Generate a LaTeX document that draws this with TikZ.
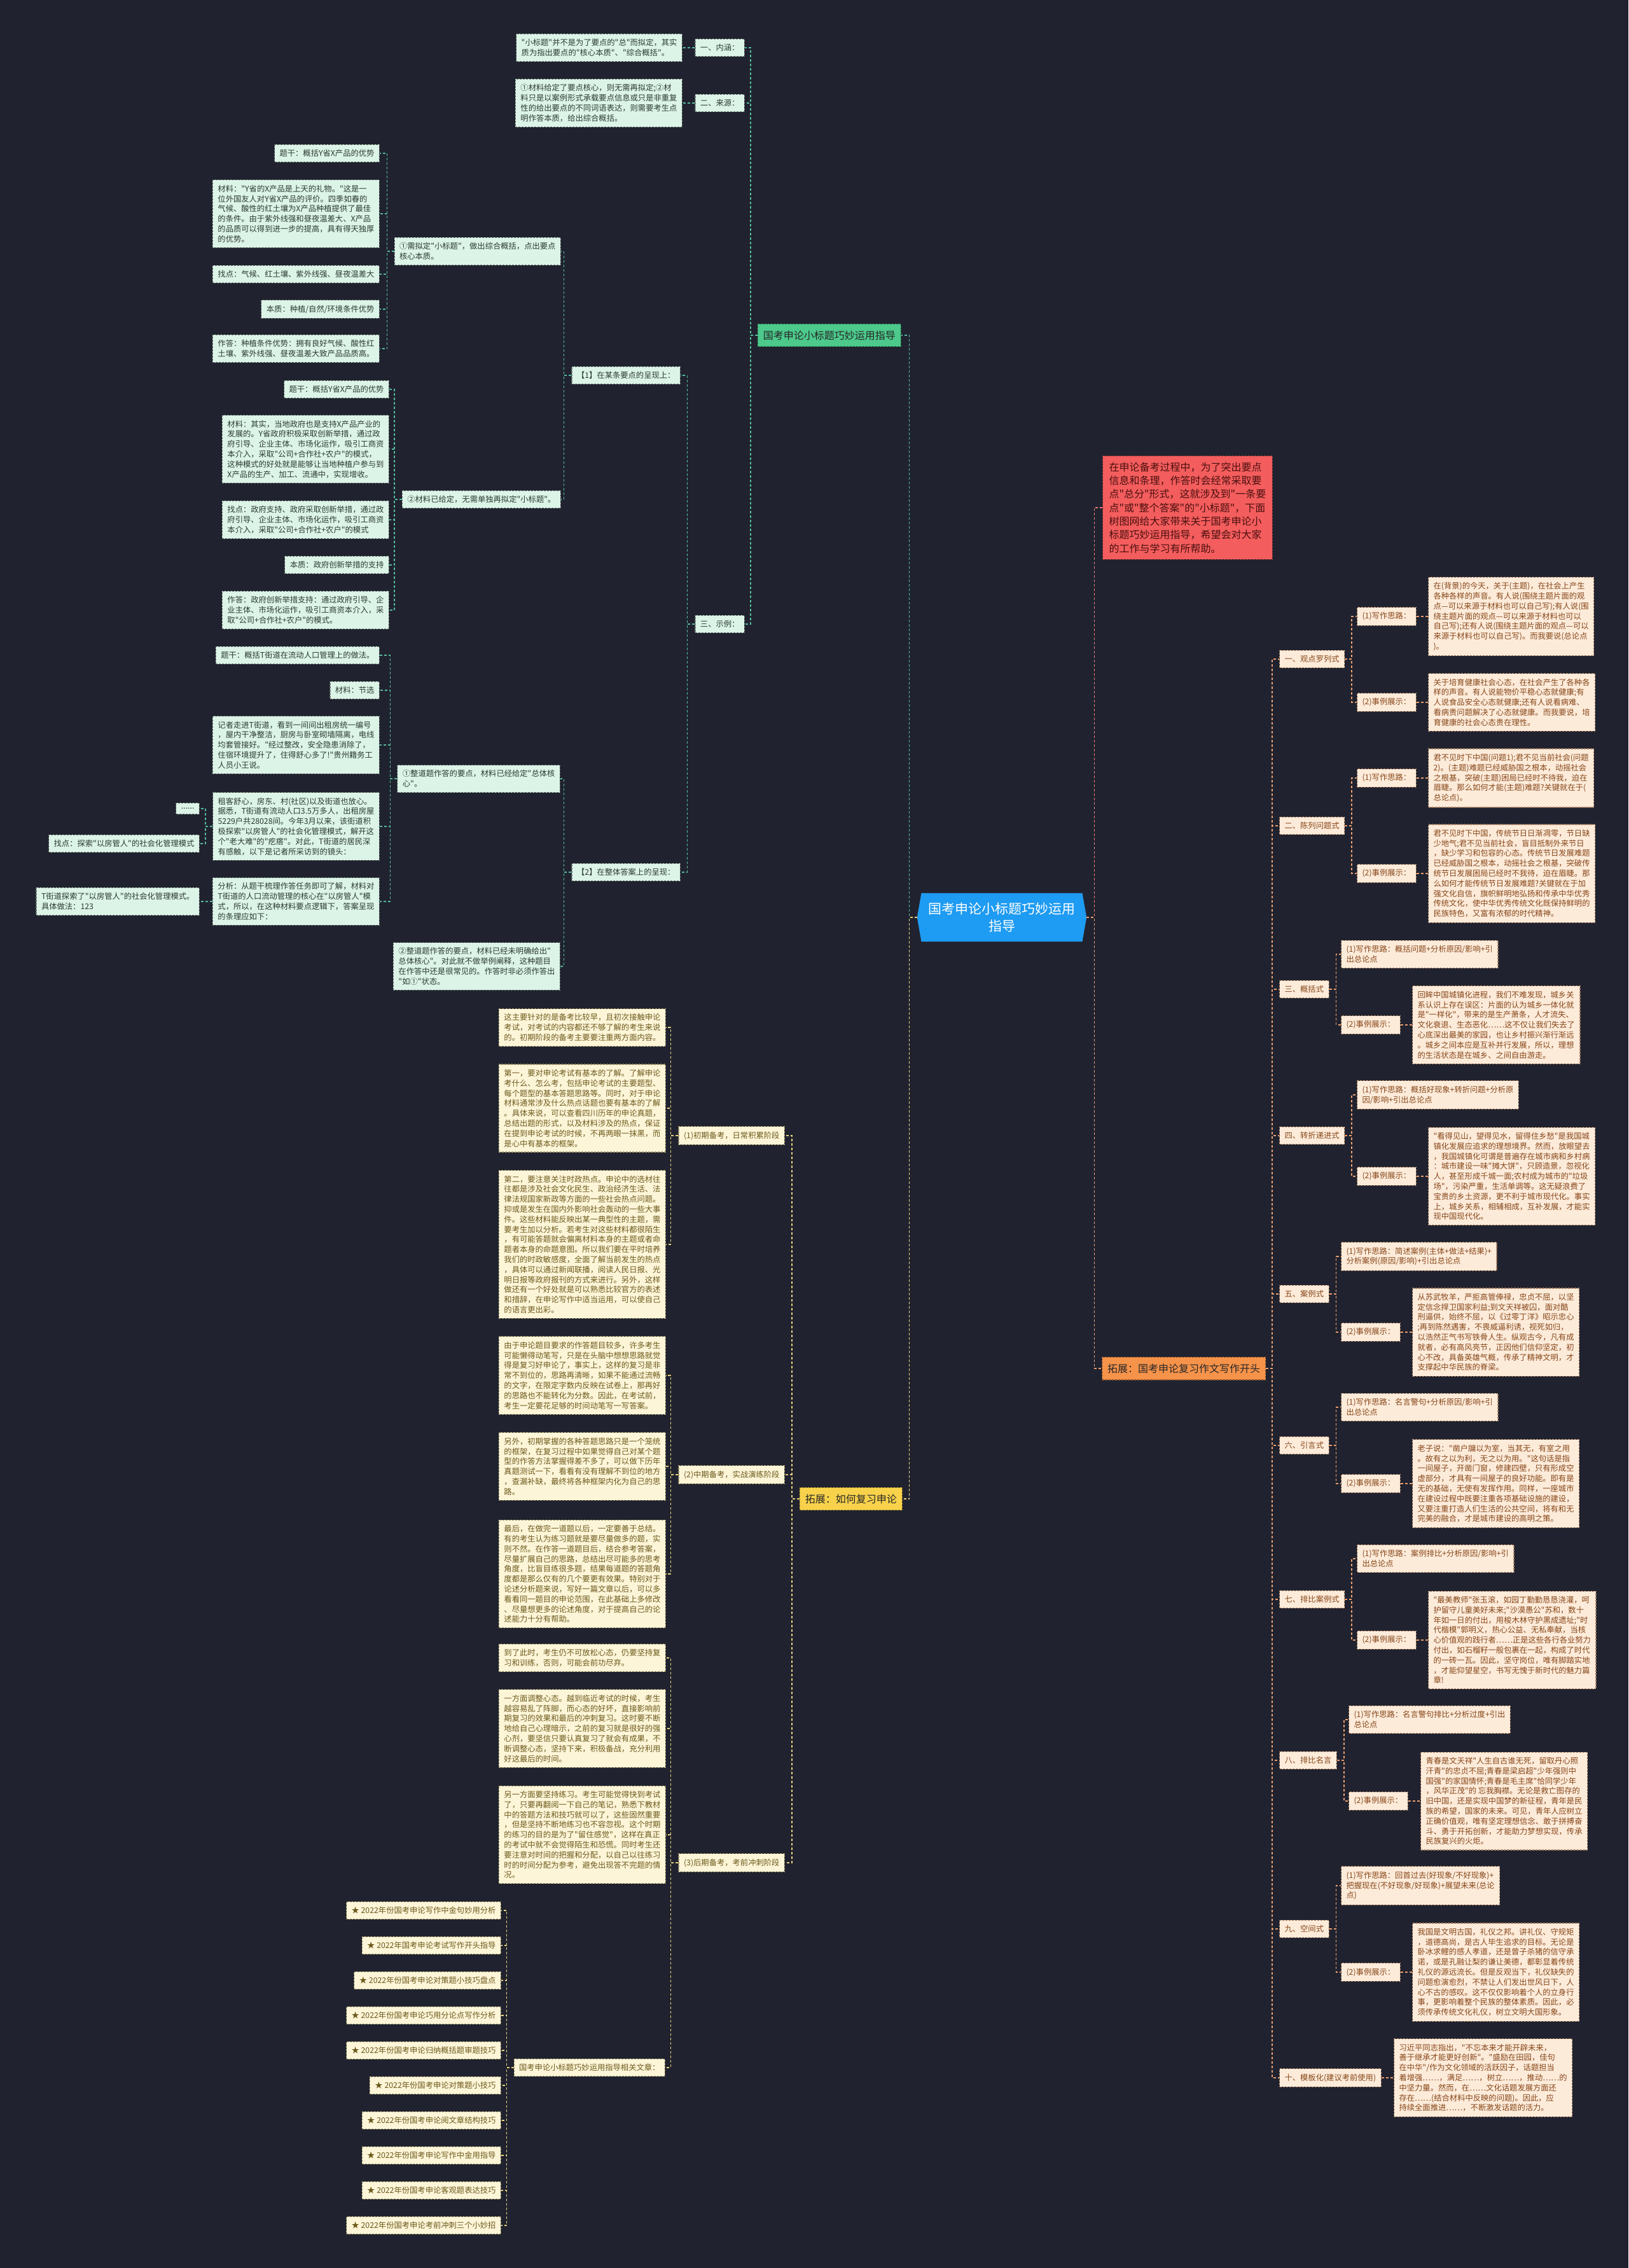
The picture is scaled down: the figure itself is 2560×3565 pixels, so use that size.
\documentclass[tikz,border=0pt]{standalone}
\usepackage{fontspec}
\setmainfont{Noto Sans CJK SC}[Ligatures=TeXOff]
\usetikzlibrary{shapes.symbols}
\definecolor{bgcol}{HTML}{20232F}
\definecolor{rootfill}{HTML}{1E9BF2}
\definecolor{gbrfill}{HTML}{4CC98B}
\definecolor{gfill}{HTML}{DCF4E7}
\definecolor{gtext}{HTML}{2C3A33}
\definecolor{gcol}{HTML}{55B99C}
\definecolor{rfill}{HTML}{F45D5D}
\definecolor{rtext}{HTML}{4A0F0F}
\definecolor{rcol}{HTML}{EE7B72}
\definecolor{obrfill}{HTML}{F6934A}
\definecolor{ofill}{HTML}{FDEBDA}
\definecolor{otext}{HTML}{864719}
\definecolor{ocol}{HTML}{E99C6E}
\definecolor{ybrfill}{HTML}{F8D24B}
\definecolor{yfill}{HTML}{FDF5D8}
\definecolor{ytext}{HTML}{6C5A1C}
\definecolor{ycol}{HTML}{E6CF7C}

\tikzset{
  box/.style={draw, dash pattern=on 3pt off 2pt, line width=1.1pt, align=left, inner xsep=8pt, inner ysep=8pt, font=\fontsize{12.3}{15.8}\selectfont},
  gleaf/.style={box, fill=gfill, draw=gtext!70, text=gtext},
  oleaf/.style={box, fill=ofill, draw=otext!70, text=otext},
  yleaf/.style={box, fill=yfill, draw=ytext!70, text=ytext},
  branchbox/.style={draw, dash pattern=on 3pt off 2pt, line width=1.1pt, inner xsep=8.5pt, inner ysep=10.5pt, font=\fontsize{16}{20}\selectfont},
  gbranch/.style={branchbox, fill=gbrfill, draw=gbrfill!60!black, text=black!85},
  obranch/.style={branchbox, fill=obrfill, draw=obrfill!60!black, text=black!85},
  ybranch/.style={branchbox, fill=ybrfill, draw=ybrfill!60!black, text=black!85},
  rnote/.style={box, fill=rfill, draw=rfill!60!black, text=rtext, inner sep=10pt, font=\fontsize{16}{21.3}\selectfont},
  rootnode/.style={shape=signal, signal to=west and east, signal pointer angle=160, fill=rootfill, text=white, align=center, inner xsep=11pt, inner ysep=15pt, font=\fontsize{21}{27}\selectfont},
  conn/.style={dash pattern=on 4pt off 3pt, line width=1.5pt},
  gline/.style={conn, draw=gcol},
  rline/.style={conn, draw=rcol},
  oline/.style={conn, draw=ocol},
  yline/.style={conn, draw=ycol}
}

\begin{document}
\begin{tikzpicture}[x=1pt,y=-1pt]
\fill[bgcol] (0,0) rectangle (2560,3565);
\useasboundingbox (0,0) rectangle (2560,3565);

\node[rootnode] (root) at (1575,1442) {国考申论小标题巧妙运用\\指导};

\node[gbranch, anchor=east] (gbr) at (1417,527) {国考申论小标题巧妙运用指导};
\node[gleaf, anchor=east] (g1) at (1171,75) {一、内涵：};
\node[gleaf, anchor=east] (g1a) at (1073,75) {"小标题"并不是为了要点的"总"而拟定，其实\\质为指出要点的"核心本质"、"综合概括"。};
\node[gleaf, anchor=east] (g2) at (1171,162) {二、来源：};
\node[gleaf, anchor=east] (g2a) at (1073,162) {①材料给定了要点核心，则无需再拟定;②材\\料只是以案例形式承载要点信息或只是非重复\\性的给出要点的不同词语表达，则需要考生点\\明作答本质，给出综合概括。};
\node[gleaf, anchor=east] (g3) at (1171,981) {三、示例：};
\node[gleaf, anchor=east] (g31) at (1070,590) {【1】在某条要点的呈现上：};
\node[gleaf, anchor=east] (g31a) at (882,395) {①需拟定"小标题"，做出综合概括，点出要点\\核心本质。};
\node[gleaf, anchor=east] (g31a1) at (597,241) {题干：概括Y省X产品的优势};
\node[gleaf, anchor=east] (g31a2) at (597,336) {材料："Y省的X产品是上天的礼物。"这是一\\位外国友人对Y省X产品的评价。四季如春的\\气候、酸性的红土壤为X产品种植提供了最佳\\的条件。由于紫外线强和昼夜温差大、X产品\\的品质可以得到进一步的提高，具有得天独厚\\的优势。};
\node[gleaf, anchor=east] (g31a3) at (597,431) {找点：气候、红土壤、紫外线强、昼夜温差大};
\node[gleaf, anchor=east] (g31a4) at (597,486) {本质：种植/自然/环境条件优势};
\node[gleaf, anchor=east] (g31a5) at (597,548) {作答：种植条件优势：拥有良好气候、酸性红\\土壤、紫外线强、昼夜温差大致产品品质高。};
\node[gleaf, anchor=east] (g31b) at (882,785) {②材料已给定，无需单独再拟定"小标题"。};
\node[gleaf, anchor=east] (g31b1) at (612,612) {题干：概括Y省X产品的优势};
\node[gleaf, anchor=east] (g31b2) at (612,706) {材料：其实，当地政府也是支持X产品产业的\\发展的。Y省政府积极采取创新举措，通过政\\府引导、企业主体、市场化运作，吸引工商资\\本介入，采取"公司+合作社+农户"的模式，\\这种模式的好处就是能够让当地种植户参与到\\X产品的生产、加工、流通中，实现增收。};
\node[gleaf, anchor=east] (g31b3) at (612,817) {找点：政府支持、政府采取创新举措，通过政\\府引导、企业主体、市场化运作，吸引工商资\\本介入，采取"公司+合作社+农户"的模式};
\node[gleaf, anchor=east] (g31b4) at (612,888) {本质：政府创新举措的支持};
\node[gleaf, anchor=east] (g31b5) at (612,959) {作答：政府创新举措支持：通过政府引导、企\\业主体、市场化运作，吸引工商资本介入，采\\取"公司+合作社+农户"的模式。};
\node[gleaf, anchor=east] (g32) at (1070,1371) {【2】在整体答案上的呈现：};
\node[gleaf, anchor=east] (g32a) at (881,1224) {①整道题作答的要点，材料已经给定"总体核\\心"。};
\node[gleaf, anchor=east] (g32a1) at (597,1030) {题干：概括T街道在流动人口管理上的做法。};
\node[gleaf, anchor=east] (g32a2) at (597,1085) {材料：节选};
\node[gleaf, anchor=east] (g32a3) at (597,1171) {记者走进T街道，看到一间间出租房统一编号\\，屋内干净整洁，厨房与卧室砌墙隔离，电线\\均套管接好。"经过整改，安全隐患消除了，\\住宿环境提升了，住得舒心多了!"贵州籍务工\\人员小王说。};
\node[gleaf, anchor=east] (g32a4) at (597,1299) {租客舒心，房东、村(社区)以及街道也放心。\\据悉，T街道有流动人口3.5万多人，出租房屋\\5229户共28028间。今年3月以来，该街道积\\极探索"以房管人"的社会化管理模式，解开这\\个"老大难"的"疙瘩"。对此，T街道的居民深\\有感触，以下是记者所采访到的镜头：};
\node[gleaf, anchor=east] (g32a5) at (597,1417) {分析：从题干梳理作答任务即可了解，材料对\\T街道的人口流动管理的核心在"以房管人"模\\式，所以，在这种材料要点逻辑下，答案呈现\\的条理应如下：};
\node[gleaf, anchor=east] (g32a41) at (314,1271) {......};
\node[gleaf, anchor=east] (g32a42) at (314,1326) {找点：探索"以房管人"的社会化管理模式};
\node[gleaf, anchor=east] (g32a51) at (314,1417) {T街道探索了"以房管人"的社会化管理模式。\\具体做法：123};
\node[gleaf, anchor=east] (g32b) at (881,1519) {②整道题作答的要点，材料已经未明确给出"\\总体核心"。对此就不做举例阐释，这种题目\\在作答中还是很常见的。作答时非必须作答出\\"如①"状态。};

\node[rnote, anchor=west] (rnt) at (1733,798) {在申论备考过程中，为了突出要点\\信息和条理，作答时会经常采取要\\点"总分"形式，这就涉及到"一条要\\点"或"整个答案"的"小标题"，下面\\树图网给大家带来关于国考申论小\\标题巧妙运用指导，希望会对大家\\的工作与学习有所帮助。};

\node[obranch, anchor=west] (obr) at (1732,2151) {拓展：国考申论复习作文写作开头};
\node[oleaf, anchor=west] (o1) at (2011,1036) {一、观点罗列式};
\node[oleaf, anchor=west] (o1a) at (2133,969) {(1)写作思路：};
\node[oleaf, anchor=west] (o1at) at (2245,969) {在(背景)的今天，关于(主题)，在社会上产生\\各种各样的声音。有人说(围绕主题片面的观\\点—可以来源于材料也可以自己写);有人说(围\\绕主题片面的观点—可以来源于材料也可以\\自己写);还有人说(围绕主题片面的观点—可以\\来源于材料也可以自己写)。而我要说(总论点\\)。};
\node[oleaf, anchor=west] (o1b) at (2133,1104) {(2)事例展示：};
\node[oleaf, anchor=west] (o1bt) at (2245,1104) {关于培育健康社会心态，在社会产生了各种各\\样的声音。有人说能物价平稳心态就健康;有\\人说食品安全心态就健康;还有人说看病难、\\看病贵问题解决了心态就健康。而我要说，培\\育健康的社会心态贵在理性。};
\node[oleaf, anchor=west] (o2) at (2011,1298) {二、陈列问题式};
\node[oleaf, anchor=west] (o2a) at (2133,1223) {(1)写作思路：};
\node[oleaf, anchor=west] (o2at) at (2245,1223) {君不见时下中国(问题1);君不见当前社会(问题\\2)。(主题)难题已经威胁国之根本，动摇社会\\之根基，突破(主题)困局已经时不待我，迫在\\眉睫。那么如何才能(主题)难题?关键就在于(\\总论点)。};
\node[oleaf, anchor=west] (o2b) at (2133,1373) {(2)事例展示：};
\node[oleaf, anchor=west] (o2bt) at (2245,1373) {君不见时下中国，传统节日日渐凋零，节日缺\\少地气;君不见当前社会，盲目抵制外来节日\\，缺少学习和包容的心态。传统节日发展难题\\已经威胁国之根本，动摇社会之根基，突破传\\统节日发展困局已经时不我待，迫在眉睫。那\\么如何才能传统节日发展难题?关键就在于加\\强文化自信，旗帜鲜明地弘扬和传承中华优秀\\传统文化，使中华优秀传统文化既保持鲜明的\\民族特色，又富有浓郁的时代精神。};
\node[oleaf, anchor=west] (o3) at (2011,1555) {三、概括式};
\node[oleaf, anchor=west] (o3a) at (2108,1500) {(1)写作思路：概括问题+分析原因/影响+引\\出总论点};
\node[oleaf, anchor=west] (o3b) at (2108,1611) {(2)事例展示：};
\node[oleaf, anchor=west] (o3bt) at (2220,1611) {回眸中国城镇化进程，我们不难发现，城乡关\\系认识上存在误区：片面的认为城乡一体化就\\是"一样化"，带来的是生产萧条，人才流失、\\文化衰退、生态恶化……这不仅让我们失去了\\心底深出最美的家园，也让乡村振兴渐行渐远\\。城乡之间本应是互补并行发展，所以，理想\\的生活状态是在城乡、之间自由游走。};
\node[oleaf, anchor=west] (o4) at (2011,1785) {四、转折递进式};
\node[oleaf, anchor=west] (o4a) at (2133,1721) {(1)写作思路：概括好现象+转折问题+分析原\\因/影响+引出总论点};
\node[oleaf, anchor=west] (o4b) at (2133,1849) {(2)事例展示：};
\node[oleaf, anchor=west] (o4bt) at (2245,1849) {"看得见山，望得见水，留得住乡愁"是我国城\\镇化发展应追求的理想境界。然而，放眼望去\\，我国城镇化可谓是普遍存在城市病和乡村病\\：城市建设一味"摊大饼"，只顾造景，忽视化\\人，甚至形成千城一面;农村成为城市的"垃圾\\场"，污染严重，生活单调等。这无疑浪费了\\宝贵的乡土资源，更不利于城市现代化。事实\\上，城乡关系，相辅相成，互补发展，才能实\\现中国现代化。};
\node[oleaf, anchor=west] (o5) at (2011,2034) {五、案例式};
\node[oleaf, anchor=west] (o5a) at (2108,1975) {(1)写作思路：简述案例(主体+做法+结果)+\\分析案例(原因/影响)+引出总论点};
\node[oleaf, anchor=west] (o5b) at (2108,2094) {(2)事例展示：};
\node[oleaf, anchor=west] (o5bt) at (2220,2094) {从苏武牧羊，严拒高管俸禄，忠贞不屈，以坚\\定信念捍卫国家利益;到文天祥被囚，面对酷\\刑逼供，始终不屈，以《过零丁洋》昭示忠心\\;再到陈然遇害，不畏威逼利诱，视死如归，\\以浩然正气书写铁骨人生。纵观古今，凡有成\\就者，必有高风亮节，正因他们信仰坚定，初\\心不改，具备英雄气概，传承了精神文明，才\\支撑起中华民族的脊梁。};
\node[oleaf, anchor=west] (o6) at (2011,2272) {六、引言式};
\node[oleaf, anchor=west] (o6a) at (2108,2212) {(1)写作思路：名言警句+分析原因/影响+引\\出总论点};
\node[oleaf, anchor=west] (o6b) at (2108,2332) {(2)事例展示：};
\node[oleaf, anchor=west] (o6bt) at (2220,2332) {老子说："凿户牖以为室，当其无，有室之用\\。故有之以为利，无之以为用。"这句话是指\\一间屋子，开凿门窗，修建四壁，只有形成空\\虚部分，才具有一间屋子的良好功能。即有是\\无的基础，无使有发挥作用。同样，一座城市\\在建设过程中既要注重各项基础设施的建设，\\又要注重打造人们生活的公共空间，将有和无\\完美的融合，才是城市建设的高明之策。};
\node[oleaf, anchor=west] (o7) at (2011,2514) {七、排比案例式};
\node[oleaf, anchor=west] (o7a) at (2133,2450) {(1)写作思路：案例排比+分析原因/影响+引\\出总论点};
\node[oleaf, anchor=west] (o7b) at (2133,2578) {(2)事例展示：};
\node[oleaf, anchor=west] (o7bt) at (2245,2578) {"最美教师"张玉滚，如园丁勤勤恳恳浇灌，呵\\护留守儿童美好未来;"沙漠愚公"苏和，数十\\年如一日的付出，用梭木林守护黑成遗址;"时\\代楷模"郭明义，热心公益、无私奉献，当核\\心价值观的践行者……正是这些各行各业努力\\付出，如石榴籽一般包裹在一起，构成了时代\\的一砖一瓦。因此，坚守岗位，唯有脚踏实地\\，才能仰望星空，书写无愧于新时代的魅力篇\\章!};
\node[oleaf, anchor=west] (o8) at (2011,2767) {八、排比名言};
\node[oleaf, anchor=west] (o8a) at (2120,2703) {(1)写作思路：名言警句排比+分析过度+引出\\总论点};
\node[oleaf, anchor=west] (o8b) at (2120,2831) {(2)事例展示：};
\node[oleaf, anchor=west] (o8bt) at (2233,2831) {青春是文天祥"人生自古谁无死，留取丹心照\\汗青"的忠贞不屈;青春是梁启超"少年强则中\\国强"的家国情怀;青春是毛主席"恰同学少年\\，风华正茂"的 忘我胸襟。无论是救亡图存的\\旧中国，还是实现中国梦的新征程，青年是民\\族的希望，国家的未来。可见，青年人应树立\\正确价值观，唯有坚定理想信念、敢于拼搏奋\\斗、勇于开拓创新，才能助力梦想实现，传承\\民族复兴的火炬。};
\node[oleaf, anchor=west] (o9) at (2011,3032) {九、空间式};
\node[oleaf, anchor=west] (o9a) at (2108,2964) {(1)写作思路：回首过去(好现象/不好现象)+\\把握现在(不好现象/好现象)+展望未来(总论\\点)};
\node[oleaf, anchor=west] (o9b) at (2108,3100) {(2)事例展示：};
\node[oleaf, anchor=west] (o9bt) at (2220,3100) {我国是文明古国，礼仪之邦。讲礼仪、守规矩\\，道德高尚，是古人毕生追求的目标。无论是\\卧冰求鲤的感人孝道，还是曾子杀猪的信守承\\诺，或是孔融让梨的谦让美德，都彰显着传统\\礼仪的源远流长。但是反观当下，礼仪缺失的\\问题愈演愈烈，不禁让人们发出世风日下，人\\心不古的感叹。这不仅仅影响着个人的立身行\\事，更影响着整个民族的整体素质。因此，必\\须传承传统文化礼仪，树立文明大国形象。};
\node[oleaf, anchor=west] (o10) at (2011,3266) {十、模板化(建议考前使用)};
\node[oleaf, anchor=west] (o10t) at (2191,3266) {习近平同志指出，"不忘本来才能开辟未来，\\善于继承才能更好创新"。"盛励在田园，佳句\\在中华"/作为文化领域的活跃因子，话题担当\\着增强……，满足……，树立……，推动……的\\中坚力量。然而，在……文化话题发展方面还\\存在……(结合材料中反映的问题)。因此，应\\持续全面推进……，不断激发话题的活力。};

\node[ybranch, anchor=east] (ybr) at (1419,2356) {拓展：如何复习申论};
\node[yleaf, anchor=east] (y1) at (1234,1785) {(1)初期备考，日常积累阶段};
\node[yleaf, anchor=east] (y1a) at (1047,1615) {这主要针对的是备考比较早，且初次接触申论\\考试，对考试的内容都还不够了解的考生来说\\的。初期阶段的备考主要要注重两方面内容。};
\node[yleaf, anchor=east] (y1b) at (1047,1742) {第一，要对申论考试有基本的了解。了解申论\\考什么、怎么考，包括申论考试的主要题型、\\每个题型的基本答题思路等。同时，对于申论\\材料通常涉及什么热点话题也要有基本的了解\\。具体来说，可以查看四川历年的申论真题，\\总结出题的形式，以及材料涉及的热点，保证\\在提到申论考试的时候，不再两眼一抹黑，而\\是心中有基本的框架。};
\node[yleaf, anchor=east] (y1c) at (1047,1956) {第二，要注意关注时政热点。申论中的选材往\\往都是涉及社会文化民生、政治经济生活、法\\律法规国家新政等方面的一些社会热点问题。\\抑或是发生在国内外影响社会轰动的一些大事\\件。这些材料能反映出某一典型性的主题，需\\要考生加以分析。若考生对这些材料都很陌生\\，有可能答题就会偏离材料本身的主题或者命\\题者本身的命题意图。所以我们要在平时培养\\我们的时政敏感度，全面了解当前发生的热点\\，具体可以通过新闻联播，阅读人民日报、光\\明日报等政府报刊的方式来进行。另外，这样\\做还有一个好处就是可以熟悉比较官方的表述\\和措辞，在申论写作中适当运用，可以使自己\\的语言更出彩。};
\node[yleaf, anchor=east] (y2) at (1234,2318) {(2)中期备考，实战演练阶段};
\node[yleaf, anchor=east] (y2a) at (1047,2162) {由于申论题目要求的作答题目较多，许多考生\\可能懒得动笔写，只是在头脑中想想思路就觉\\得是复习好申论了，事实上，这样的复习是非\\常不到位的，思路再清晰，如果不能通过流畅\\的文字，在限定字数内反映在试卷上，那再好\\的思路也不能转化为分数。因此，在考试前，\\考生一定要花足够的时间动笔写一写答案。};
\node[yleaf, anchor=east] (y2b) at (1047,2305) {另外，初期掌握的各种答题思路只是一个笼统\\的框架，在复习过程中如果觉得自己对某个题\\型的作答方法掌握得差不多了，可以做下历年\\真题测试一下，看看有没有理解不到位的地方\\，查漏补缺，最终将各种框架内化为自己的思\\路。};
\node[yleaf, anchor=east] (y2c) at (1047,2474) {最后，在做完一道题以后，一定要善于总结。\\有的考生认为练习题就是要尽量做多的题，实\\则不然。在作答一道题目后，结合参考答案，\\尽量扩展自己的思路，总结出尽可能多的思考\\角度，比盲目练很多题，结果每道题的答题角\\度都是那么仅有的几个要更有效果。特别对于\\论述分析题来说，写好一篇文章以后，可以多\\看看同一题目的申论范围，在此基础上多修改\\、尽量想更多的论述角度，对于提高自己的论\\述能力十分有帮助。};
\node[yleaf, anchor=east] (y3) at (1234,2928) {(3)后期备考，考前冲刺阶段};
\node[yleaf, anchor=east] (y3a) at (1047,2606) {到了此时，考生仍不可放松心态，仍要坚持复\\习和训练，否则，可能会前功尽弃。};
\node[yleaf, anchor=east] (y3b) at (1047,2717) {一方面调整心态。越到临近考试的时候，考生\\越容易乱了阵脚，而心态的好坏，直接影响前\\期复习的效果和最后的冲刺复习。这时要不断\\地给自己心理暗示，之前的复习就是很好的强\\心剂，要坚信只要认真复习了就会有成果，不\\断调整心态，坚持下来，积极备战，充分利用\\好这最后的时间。};
\node[yleaf, anchor=east] (y3c) at (1047,2884) {另一方面要坚持练习。考生可能觉得快到考试\\了，只要再翻阅一下自己的笔记，熟悉下教材\\中的答题方法和技巧就可以了，这些固然重要\\，但是坚持不断地练习也不容忽视。这个时期\\的练习的目的是为了"留住感觉"，这样在真正\\的考试中就不会觉得陌生和恐慌。同时考生还\\要注意对时间的把握和分配，以自己以往练习\\时的时间分配为参考，避免出现答不完题的情\\况。};
\node[yleaf, anchor=east] (y3d) at (1046,3250) {国考申论小标题巧妙运用指导相关文章：};
\foreach \t [count=\i] in {2022年份国考申论写作中金句妙用分析, 2022年国考申论考试写作开头指导, 2022年份国考申论对策题小技巧盘点, 2022年份国考申论巧用分论点写作分析, 2022年份国考申论归纳概括题审题技巧, 2022年份国考申论对策题小技巧, 2022年份国考申论阅文章结构技巧, 2022年份国考申论写作中金用指导, 2022年份国考申论客观题表达技巧, 2022年份国考申论考前冲刺三个小妙招}
  \node[yleaf, anchor=east] (s\i) at (788,{3003+55*(\i-1)}) {★ \t};

\draw[gline] (root.west) -- ++(-12,0) |- (gbr.east);
\draw[yline] (root.west) -- ++(-12,0) |- (ybr.east);
\draw[rline] (root.east) -- ++(12,0) |- (rnt.west);
\draw[oline] (root.east) -- ++(12,0) |- (obr.west);

\foreach \c in {g1,g2,g3} \draw[gline] (gbr.west) -- ++(-11,0) |- (\c.east);
\draw[gline] (g1.west) -- (g1a.east);
\draw[gline] (g2.west) -- (g2a.east);
\foreach \c in {g31,g32} \draw[gline] (g3.west) -- ++(-12,0) |- (\c.east);
\foreach \c in {g31a,g31b} \draw[gline] (g31.west) -- ++(-12,0) |- (\c.east);
\foreach \c in {g31a1,g31a2,g31a3,g31a4,g31a5} \draw[gline] (g31a.west) -- ++(-11,0) |- (\c.east);
\foreach \c in {g31b1,g31b2,g31b3,g31b4,g31b5} \draw[gline] (g31b.west) -- ++(-12,0) |- (\c.east);
\foreach \c in {g32a,g32b} \draw[gline] (g32.west) -- ++(-12,0) |- (\c.east);
\foreach \c in {g32a1,g32a2,g32a3,g32a4,g32a5} \draw[gline] (g32a.west) -- ++(-11,0) |- (\c.east);
\foreach \c in {g32a41,g32a42} \draw[gline] (g32a4.west) -- ++(-11,0) |- (\c.east);
\draw[gline] (g32a5.west) -- (g32a51.east);

\foreach \c in {o1,o2,o3,o4,o5,o6,o7,o8,o9,o10} \draw[oline] (obr.east) -- ++(10,0) |- (\c.west);
\foreach \p in {o1,o2,o3,o4,o5,o6,o7,o8,o9} {
  \draw[oline] (\p.east) -- ++(11,0) |- (\p a.west);
  \draw[oline] (\p.east) -- ++(11,0) |- (\p b.west);
  \draw[oline] (\p b.east) -- (\p bt.west);
}
\draw[oline] (o1a.east) -- (o1at.west);
\draw[oline] (o2a.east) -- (o2at.west);
\draw[oline] (o10.east) -- (o10t.west);

\foreach \c in {y1,y2,y3} \draw[yline] (ybr.west) -- ++(-12,0) |- (\c.east);
\foreach \c in {y1a,y1b,y1c} \draw[yline] (y1.west) -- ++(-12,0) |- (\c.east);
\foreach \c in {y2a,y2b,y2c} \draw[yline] (y2.west) -- ++(-12,0) |- (\c.east);
\foreach \c in {y3a,y3b,y3c,y3d} \draw[yline] (y3.west) -- ++(-12,0) |- (\c.east);
\foreach \i in {1,...,10} \draw[yline] (y3d.west) -- ++(-11,0) |- (s\i.east);
\end{tikzpicture}
\end{document}
